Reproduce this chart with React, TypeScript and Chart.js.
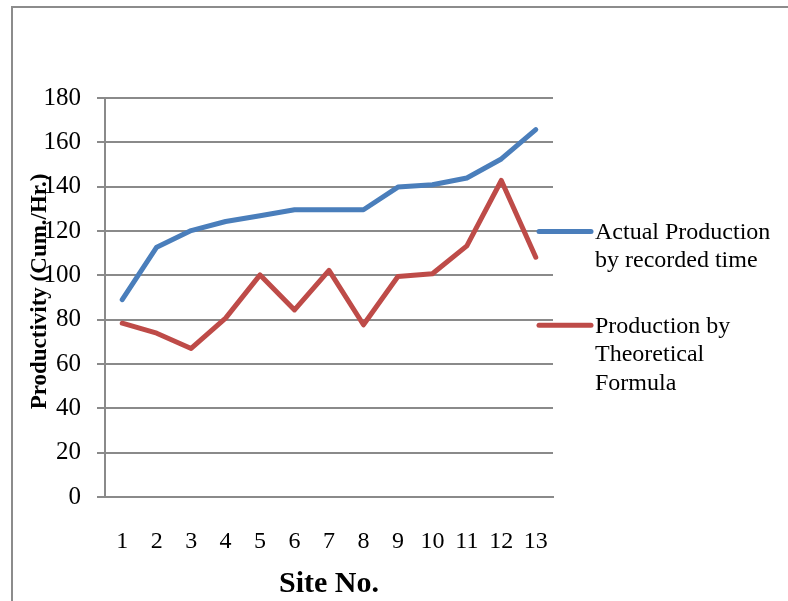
import React, { useEffect, useRef } from "react";
import { Chart, registerables } from "chart.js";

Chart.register(...registerables);

const sites = ["1", "2", "3", "4", "5", "6", "7", "8", "9", "10", "11", "12", "13"];
const actualProduction = [89, 112.7, 120.2, 124.3, 126.9, 129.6, 129.6, 129.6, 139.8, 140.9, 143.9, 152.5, 165.7];
const theoreticalProduction = [78.4, 73.9, 67, 80.7, 100.2, 84.4, 102.2, 77.7, 99.5, 100.7, 113.3, 142.8, 108.2];
const actualLegend = ["Actual Production", "by recorded time"];
const theoreticalLegend = ["Production by", "Theoretical", "Formula"];
const yTitle = "Productivity (Cum./Hr.)";
const xTitle = "Site No.";

const BLUE = "#4a7ebb";
const RED = "#be4b48";
const GRID = "#8a8a8a";
const SERIF = "'Liberation Serif', 'Times New Roman', serif";

const overlay = {
  id: "overlay",
  afterDraw(chart: any) {
    const ctx = chart.ctx;
    const area = chart.chartArea;
    const yScale = chart.scales.y;
    ctx.save();
    // frame
    ctx.strokeStyle = "#8c8c8c";
    ctx.lineWidth = 2;
    ctx.beginPath();
    ctx.moveTo(12, 700);
    ctx.lineTo(12, 7);
    ctx.lineTo(900, 7);
    ctx.stroke();

    // y title
    ctx.fillStyle = "#000";
    ctx.font = "bold 23px " + SERIF;
    ctx.textAlign = "center";
    ctx.textBaseline = "middle";
    ctx.save();
    ctx.translate(40, (area.top + area.bottom) / 2 - 6);
    ctx.rotate(-Math.PI / 2);
    ctx.fillText(yTitle, 0, 0);
    ctx.restore();

    // x title
    ctx.font = "bold 30px " + SERIF;
    ctx.fillText(xTitle, (area.left + area.right) / 2, 584);

    // legend
    const drawEntry = (lines: string[], color: string, y: number) => {
      ctx.strokeStyle = color;
      ctx.lineWidth = 5;
      ctx.lineCap = "round";
      ctx.beginPath();
      ctx.moveTo(area.right - 14, y);
      ctx.lineTo(area.right + 38, y);
      ctx.stroke();
      ctx.fillStyle = "#000";
      ctx.font = "24px " + SERIF;
      ctx.textAlign = "left";
      ctx.textBaseline = "middle";
      lines.forEach((t, i) => ctx.fillText(t, area.right + 42, y + 1 + i * 28.5));
    };
    drawEntry(actualLegend, BLUE, yScale.getPixelForValue(120) + 0.5);
    drawEntry(theoreticalLegend, RED, yScale.getPixelForValue(77.5));
    ctx.restore();
  },
};

export default function App() {
  const ref = useRef<HTMLCanvasElement>(null);
  useEffect(() => {
    if (!ref.current) return;
    const chart = new Chart(ref.current, {
      type: "line",
      data: {
        labels: sites,
        datasets: [
          {
            label: actualLegend.join(" "),
            data: actualProduction,
            borderColor: BLUE,
            backgroundColor: BLUE,
            borderWidth: 5,
            pointRadius: 0,
            tension: 0,
            borderCapStyle: "round",
            borderJoinStyle: "round",
          },
          {
            label: theoreticalLegend.join(" "),
            data: theoreticalProduction,
            borderColor: RED,
            backgroundColor: RED,
            borderWidth: 5,
            pointRadius: 0,
            tension: 0,
            borderCapStyle: "round",
            borderJoinStyle: "round",
          },
        ],
      },
      options: {
        animation: false,
        responsive: false,
        maintainAspectRatio: false,
        layout: { padding: { top: 98, right: 235, left: 0, bottom: 0 } },
        plugins: { legend: { display: false }, tooltip: { enabled: false } },
        scales: {
          x: {
            offset: true,
            grid: { display: false, drawTicks: false },
            border: { display: true, color: GRID, width: 2 },
            ticks: { color: "#000", font: { family: SERIF, size: 24 }, padding: 30, maxRotation: 0, autoSkip: false },
            afterFit(scale: any) {
              scale.height = 104;
            },
          },
          y: {
            min: 0,
            max: 180,
            grid: { color: GRID, lineWidth: 2, tickLength: 8 },
            border: { display: true, color: GRID, width: 2 },
            ticks: { stepSize: 20, color: "#000", font: { family: SERIF, size: 25 }, padding: 16 },
            afterFit(scale: any) {
              scale.width = 105;
            },
          },
        },
      },
      plugins: [overlay],
    });
    return () => chart.destroy();
  }, []);
  return (
    <div style={{ position: "fixed", left: 0, top: 0, width: 788, height: 601, background: "#fff" }}>
      <canvas ref={ref} width={788} height={601} style={{ width: 788, height: 601, display: "block" }} />
    </div>
  );
}
